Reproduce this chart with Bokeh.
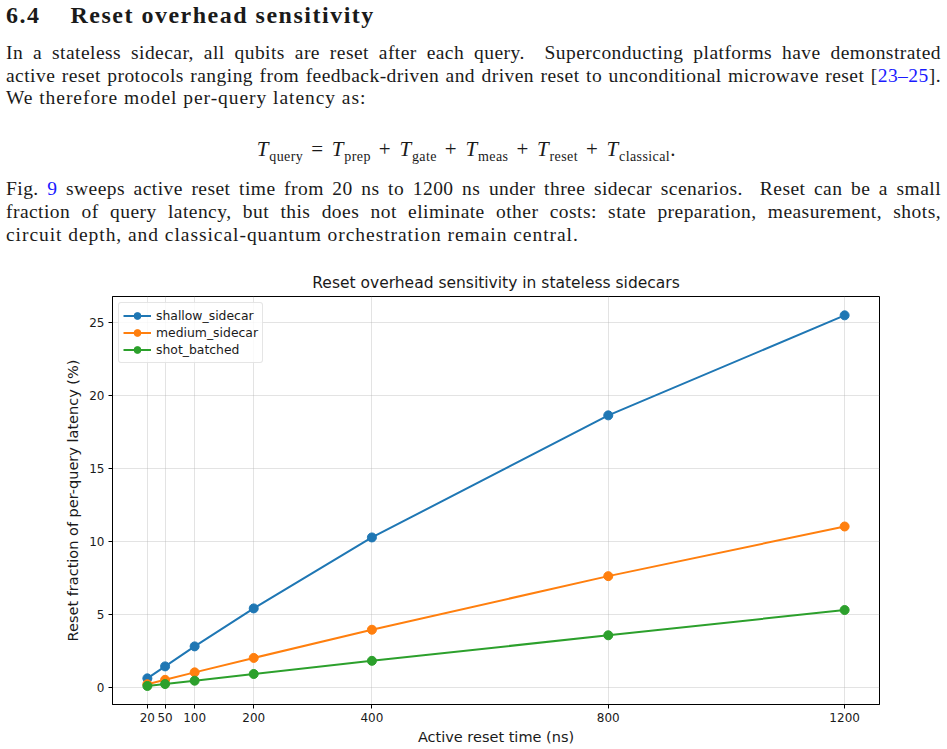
from bokeh.plotting import figure
from bokeh.models import Div, FixedTicker, Range1d
from bokeh.layouts import column
from bokeh.embed import file_html
from bokeh.resources import INLINE

# Reset-time sweep (ns) and reset share of per-query latency (%)
reset_ns = [20, 50, 100, 200, 400, 800, 1200]
shallow_sidecar = [0.62, 1.44, 2.81, 5.41, 10.27, 18.63, 25.48]
medium_sidecar = [0.22, 0.52, 1.03, 2.02, 3.95, 7.62, 11.02]
shot_batched = [0.10, 0.23, 0.46, 0.92, 1.82, 3.57, 5.30]
series_names = ["shallow_sidecar", "medium_sidecar", "shot_batched"]
series_colors = ["#1f77b4", "#ff7f0e", "#2ca02c"]
y_ticks = [0, 5, 10, 15, 20, 25]

SERIF = "'Liberation Serif', 'DejaVu Serif', serif"


def line_div(top, html, size=19.5, justify=True, left=6, width=935, extra=""):
    if justify:
        align = "text-align:justify;text-align-last:justify;letter-spacing:0.45px;"
    else:
        align = "text-align:left;letter-spacing:0.95px;"
    return (f'<div style="position:absolute;left:{left}px;top:{top}px;width:{width}px;'
            f'font-family:{SERIF};font-size:{size}px;line-height:22px;color:#1a1a1a;'
            f'white-space:nowrap;{align}{extra}">{html}</div>')


def term(sub):
    return f"<i>T</i><sub style='font-size:14px;letter-spacing:0.4px'>{sub}</sub>"


def op(sym):
    return f"<span style='margin:0 8px'>{sym}</span>"


link = 'style="color:#1a1aff"'
equation = (term("query") + op("=") + term("prep") + op("+") + term("gate") + op("+")
            + term("meas") + op("+") + term("reset") + op("+") + term("classical") + ".")
lines = [
    line_div(4, "6.4&nbsp;&nbsp;&nbsp;&nbsp;Reset overhead sensitivity", size=24, justify=False,
             extra="font-weight:bold;letter-spacing:1.5px;"),
    line_div(42, "In a stateless sidecar, all qubits are reset after each query.&nbsp; "
                 "Superconducting platforms have demonstrated"),
    line_div(65, "active reset protocols ranging from feedback-driven and driven reset to "
                 f"unconditional microwave reset [<span {link}>23&ndash;25</span>]."),
    line_div(87, "We therefore model per-query latency as:", justify=False),
    line_div(138, equation, size=21, justify=False, left=-1,
             extra="text-align:center;letter-spacing:0.8px;"),
    line_div(178, f"Fig. <span {link}>9</span> sweeps active reset time from 20 ns to 1200 ns under three "
                  "sidecar scenarios.&nbsp; Reset can be a small"),
    line_div(201, "fraction of query latency, but this does not eliminate other costs: state preparation, "
                  "measurement, shots,"),
    line_div(224, "circuit depth, and classical-quantum orchestration remain central.", justify=False),
]
text_block = Div(
    text='<div style="position:relative;width:947px;height:265px;overflow:hidden;">'
         + "".join(lines) + "</div>",
    width=947, height=265, margin=(0, 0, 0, 0),
)

p = figure(
    output_backend="svg", toolbar_location=None,
    frame_width=767, frame_height=408,
    min_border_left=112, min_border_right=68, min_border_top=31, min_border_bottom=45,
    x_range=Range1d(-39, 1259), y_range=Range1d(-1.17, 26.77),
    title="Reset overhead sensitivity in stateless sidecars",
    margin=(0, 0, 0, 0),
)
p.title.align = "center"
p.title.text_font = "DejaVu Sans"
p.title.text_font_size = "15.5px"
p.title.text_font_style = "normal"
p.title.text_color = "#1a1a1a"

for s_name, s_vals, s_col in zip(series_names, [shallow_sidecar, medium_sidecar, shot_batched], series_colors):
    p.line(reset_ns, s_vals, line_color=s_col, line_width=2, legend_label=s_name)
    p.scatter(reset_ns, s_vals, size=9, fill_color=s_col, line_color=s_col, legend_label=s_name)

p.xaxis.ticker = FixedTicker(ticks=reset_ns)
p.yaxis.ticker = FixedTicker(ticks=y_ticks)
p.xaxis.axis_label = "Active reset time (ns)"
p.yaxis.axis_label = "Reset fraction of per-query latency (%)"
for ax in (p.xaxis[0], p.yaxis[0]):
    ax.axis_label_text_font = "DejaVu Sans"
    ax.axis_label_text_font_size = "14.5px"
    ax.axis_label_text_font_style = "normal"
    ax.axis_label_text_color = "#1a1a1a"
    ax.major_label_text_font = "DejaVu Sans"
    ax.major_label_text_font_size = "12px"
    ax.major_label_text_color = "#1a1a1a"
    ax.major_tick_in = 0
    ax.major_tick_out = 4
    ax.minor_tick_line_color = None
    ax.axis_line_color = "black"
    ax.major_tick_line_color = "black"
p.xaxis.axis_label_standoff = 4
p.yaxis.axis_label_standoff = 5
p.xaxis.major_label_standoff = 4
p.yaxis.major_label_standoff = 4

p.outline_line_color = "black"
p.outline_line_width = 1
p.xgrid.grid_line_color = "#b0b0b0"
p.ygrid.grid_line_color = "#b0b0b0"
p.xgrid.grid_line_alpha = 0.35
p.ygrid.grid_line_alpha = 0.35

p.legend.location = "top_left"
p.legend.margin = 6
p.legend.padding = 4
p.legend.spacing = 0
p.legend.label_text_font = "DejaVu Sans"
p.legend.label_text_font_size = "12.4px"
p.legend.label_text_color = "#1a1a1a"
p.legend.glyph_width = 28
p.legend.glyph_height = 17
p.legend.label_height = 17
p.legend.border_line_color = "#cccccc"
p.legend.border_line_width = 1
p.legend.border_radius = 3
p.legend.background_fill_alpha = 0.8

layout = column(text_block, p, spacing=0)
open("out.html", "w").write(file_html(layout, INLINE))
